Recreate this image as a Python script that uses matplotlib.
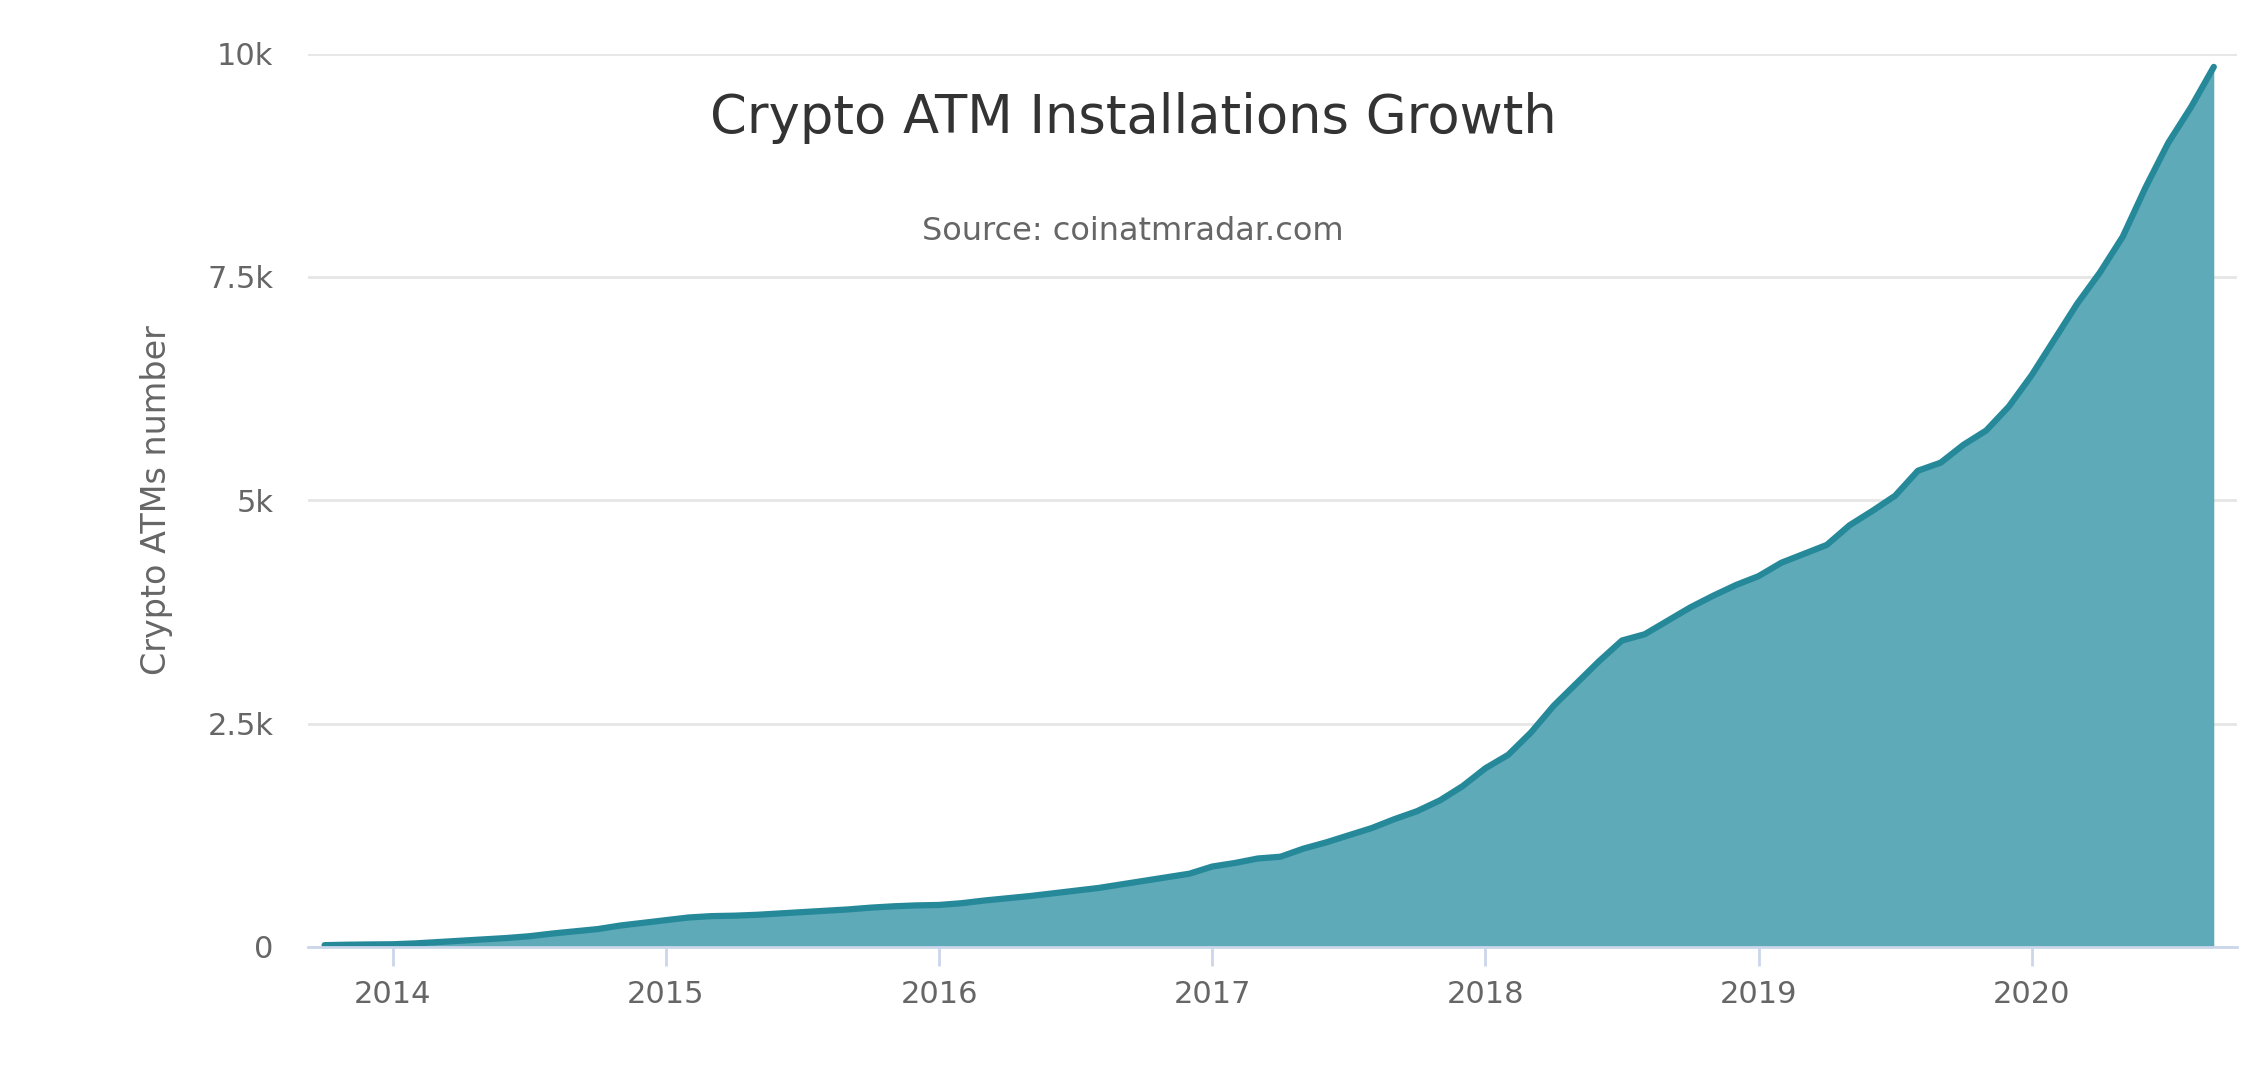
import matplotlib
matplotlib.use("Agg")
import matplotlib.pyplot as plt
import numpy as np

start_year = 2013.75
v2013 = [20, 25, 28]
v2014 = [30, 40, 55, 70, 85, 100, 120, 150, 175, 200, 240, 270]
v2015 = [300, 330, 345, 350, 360, 375, 390, 405, 420, 440, 455, 465]
v2016 = [470, 490, 520, 545, 570, 600, 630, 660, 700, 740, 780, 820]
v2017 = [900, 940, 990, 1010, 1100, 1170, 1250, 1330, 1430, 1520, 1640, 1800]
v2018 = [2000, 2150, 2400, 2700, 2950, 3200, 3430, 3500, 3650, 3800, 3930, 4050]
v2019 = [4150, 4300, 4400, 4500, 4720, 4880, 5050, 5330, 5420, 5620, 5780, 6050]
v2020 = [6400, 6800, 7200, 7550, 7950, 8500, 9000, 9400, 9850]
values = np.array(v2013 + v2014 + v2015 + v2016 + v2017 + v2018 + v2019 + v2020)
x = start_year + np.arange(len(values)) / 12.0

year_ticks = [2014, 2015, 2016, 2017, 2018, 2019, 2020]
y_ticks = [0, 2500, 5000, 7500, 10000]
y_labels = ["0", "2.5k", "5k", "7.5k", "10k"]

fig = plt.figure(figsize=(22.66, 10.70), dpi=100)
ax = fig.add_axes([0.136, 0.115, 0.851, 0.835])
ax.fill_between(x, values, 0, color="#5eaab8", linewidth=0)
ax.plot(x, values, color="#26899a", linewidth=4.5, solid_capstyle="round")
ax.set_xlim(2013.69, 2020.75)
ax.set_ylim(0, 10000)
ax.set_yticks(y_ticks)
ax.set_yticklabels(y_labels)
ax.set_xticks(year_ticks)
ax.set_xticklabels([str(y) for y in year_ticks])
ax.grid(axis="y", color="#e6e6e6", linewidth=2)
ax.set_axisbelow(True)
for s in ["top", "right", "left"]:
    ax.spines[s].set_visible(False)
ax.spines["bottom"].set_color("#ccd6eb")
ax.spines["bottom"].set_linewidth(2)
ax.tick_params(axis="y", length=0, labelsize=22, labelcolor="#666666", pad=25)
ax.tick_params(axis="x", length=14, width=2, color="#ccd6eb", labelsize=22, labelcolor="#666666", pad=10)
ax.set_ylabel("Crypto ATMs number", fontsize=24, color="#666666", labelpad=25)
fig.text(0.5, 0.89, "Crypto ATM Installations Growth", ha="center", va="center", fontsize=38, color="#333333")
fig.text(0.5, 0.784, "Source: coinatmradar.com", ha="center", va="center", fontsize=23, color="#666666")
fig.savefig("out.png", dpi=100)
